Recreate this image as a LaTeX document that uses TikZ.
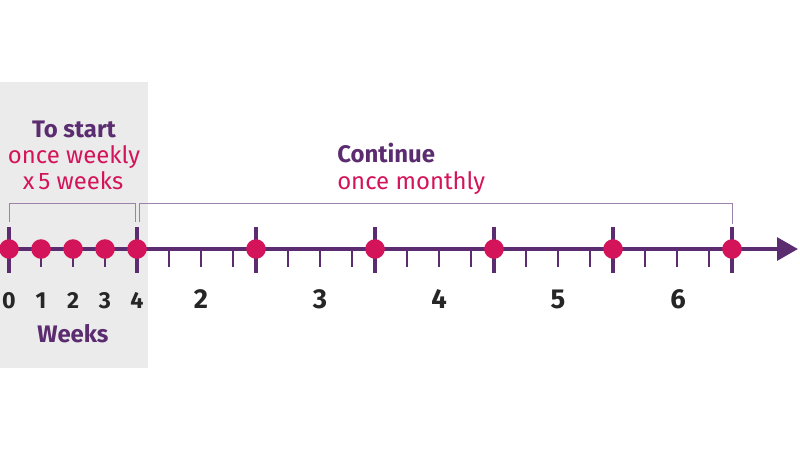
\documentclass[tikz,border=0pt]{standalone}
\usepackage{fontspec}
\setmainfont{Fira Sans}
\usetikzlibrary{positioning,arrows.meta}
\definecolor{planPurple}{HTML}{5B2C6F}
\definecolor{planPink}{HTML}{D4145A}
\definecolor{planGrey}{HTML}{EBEBEB}
\definecolor{planBracket}{HTML}{9C82AA}

\begin{document}
\begin{tikzpicture}[x=0.025cm, y=-0.025cm, >=Stealth,
    dose/.style={circle, fill=planPink, minimum size=0.49cm, inner sep=0pt},
    bigtick/.style={planPurple, line width=2.3pt},
    minortick/.style={planPurple, line width=1.2pt},
    bracketline/.style={planBracket, line width=0.7pt},
    wknum/.style={anchor=base, font=\fontsize{16.5}{18}\selectfont\bfseries, text=black!85},
    monum/.style={anchor=base, font=\fontsize{19.5}{22}\selectfont\bfseries, text=black!85},
    head/.style={font=\fontsize{17}{19}\selectfont\bfseries, text=planPurple},
    freq/.style={font=\fontsize{17}{19}\selectfont, text=planPink}]
  \useasboundingbox (0,0) rectangle (800,450);
  % shaded start phase
  \fill[planGrey] (0,82) rectangle (148,368);
  % ticks
  \foreach \x in {9,137,256,375,494,613,732}
    \draw[bigtick] (\x,227) -- (\x,273);
  \foreach \x in {41,73,105}
    \draw[minortick] (\x,249) -- (\x,267);
  \foreach \m in {137,256,375,494,613}
    \foreach \k in {32,64,96}
      \draw[minortick] (\m+\k,249) -- (\m+\k,267);
  % axis
  \coordinate (start) at (0,249);
  \coordinate (tip) at (798,249);
  \draw[planPurple, line width=3pt, -{Triangle[length=0.52cm, width=0.56cm]}] (start) -- (tip);
  % doses
  \node[dose] (w0) at (9,249) {};
  \node[dose] (w1) at (41,249) {};
  \node[dose] (w2) at (73,249) {};
  \node[dose] (w3) at (105,249) {};
  \node[dose] (w4) at (137,249) {};
  \node[dose] (mo1) at (256,249) {};
  \node[dose] (mo2) at (375,249) {};
  \node[dose] (mo3) at (494,249) {};
  \node[dose] (mo4) at (613,249) {};
  \node[dose] (mo5) at (732,249) {};
  % week and month numbers
  \node[wknum] (n0) at (9,308) {0};
  \node[wknum] (n1) at (41,308) {1};
  \node[wknum] (n2) at (73,308) {2};
  \node[wknum] (n3) at (105,308) {3};
  \node[wknum] (n4) at (137,308) {4};
  \node[monum] (mn2) at (201,308) {2};
  \node[monum] (mn3) at (320,308) {3};
  \node[monum] (mn4) at (439,308) {4};
  \node[monum] (mn5) at (558,308) {5};
  \node[monum] (mn6) at (678,308) {6};
  \node[head, anchor=base] (weeks) at (73,342) {Weeks};
  % headings
  \node[head, anchor=base] (startlbl) at (74,137) {To start};
  \node[freq, anchor=base] (weekly) at (74,163) {once weekly};
  \node[freq, anchor=base] (fivewk) at (73,189) {x\,5 weeks};
  \node[head, anchor=base west, inner xsep=0pt] (contlbl) at (337,162) {Continue};
  \node[freq, anchor=base west, inner xsep=0pt] (monthly) at (337,189) {once monthly};
  % brackets
  \coordinate (b0) at (9,222);
  \coordinate (b1) at (135,222);
  \coordinate (c0) at (139,222);
  \coordinate (c1) at (732,224);
  \draw[bracketline] (b0) |- (135,203) -- (b1);
  \draw[bracketline] (c0) |- (732,203) -- (c1);
\end{tikzpicture}
\end{document}
